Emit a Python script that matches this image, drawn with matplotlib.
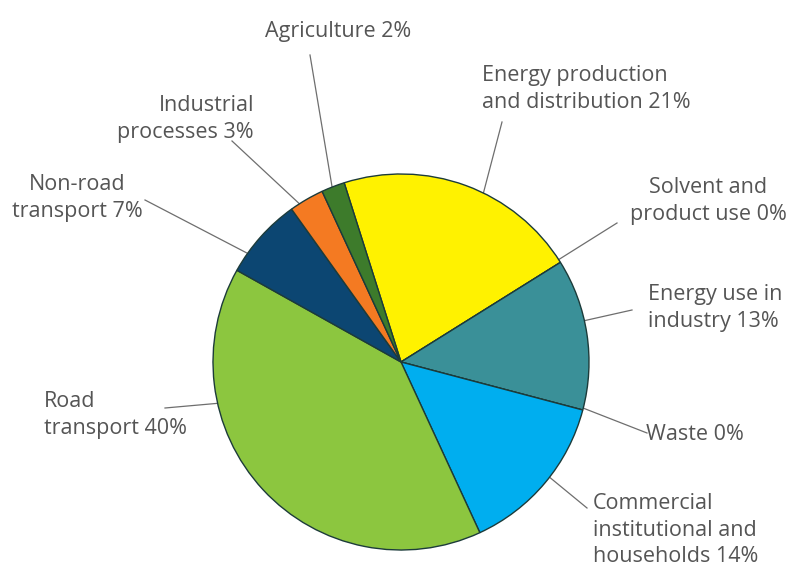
import numpy as np
import matplotlib.pyplot as plt

# emission shares by sector (%), clockwise from the top
sectors = ["Energy production and distribution", "Solvent and product use",
           "Energy use in industry", "Waste",
           "Commercial institutional and households", "Road transport",
           "Non-road transport", "Industrial processes", "Agriculture"]
shares = [21, 0, 13, 0, 14, 40, 7, 3, 2]
colors = ["#fff200", "#3a9098", "#3a9098", "#00aeef", "#00aeef",
          "#8cc63f", "#0c4672", "#f47a22", "#3d7b2b"]

labels = ["Energy production\nand distribution 21%", "Solvent and\nproduct use 0%",
          "Energy use in\nindustry 13%", "Waste 0%",
          "Commercial\ninstitutional and\nhouseholds 14%", "Road\ntransport 40%",
          "Non-road\ntransport 7%", "Industrial\nprocesses 3%", "Agriculture 2%"]

W, H = 791, 572
cx, cy, R = 401, H - 362, 188

fig = plt.figure(figsize=(W / 100, H / 100), dpi=100)
ax = fig.add_axes([0, 0, 1, 1])
ax.axis("off")

ax.pie(shares, colors=colors, center=(cx, cy), radius=R, startangle=107.6,
       counterclock=False, normalize=True,
       wedgeprops=dict(edgecolor="#1c3b3a", linewidth=1.0))
ax.set_xlim(0, W)
ax.set_ylim(0, H)
ax.set_aspect("equal")

# label placement: (text x, text y, ha, rim angle cw from top, line outer end)
layout = [
    (482, 89, "left", 26, (502, 122)),
    (708, 201, "center", 57, (617, 223)),
    (648, 308, "left", 77.3, (632, 310)),
    (646, 435, "left", 104.2, (647, 433)),
    (593, 530, "left", 127.8, (587, 508)),
    (44, 415, "left", 257.3, (165, 408)),
    (77, 198, "center", 305.3, (145, 200)),
    (254, 119, "right", 327.3, (232, 141)),
    (338, 32, "center", 338.5, (310, 55)),
]

for lab, (tx, ty, ha, ang, (lx, ly)) in zip(labels, layout):
    a = np.radians(ang)
    rx, ry = cx + R * np.sin(a), cy + R * np.cos(a)
    ax.plot([lx, rx], [H - ly, ry], color="#6e6e6e", lw=0.9, zorder=0.5)
    ax.text(tx, H - ty, lab, ha=ha, va="center", multialignment=ha,
            fontsize=15.5, color="#555555", family="Open Sans",
            linespacing=1.33)

fig.savefig("out.png", dpi=100)
